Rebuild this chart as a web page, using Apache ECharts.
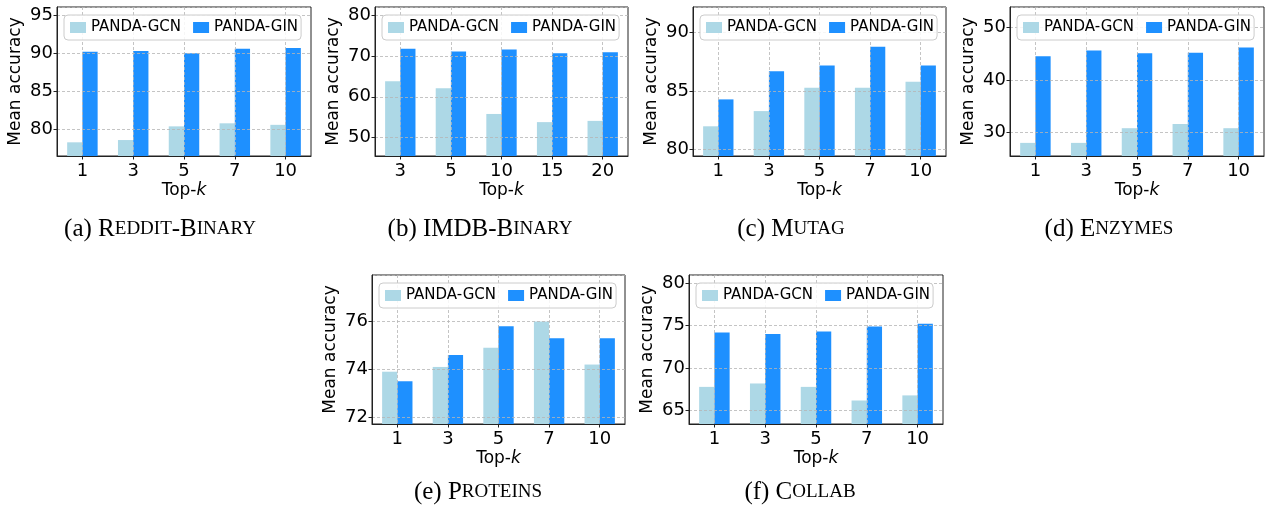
<!DOCTYPE html>
<html>
<head>
<meta charset="utf-8">
<script src="https://cdn.jsdelivr.net/npm/echarts@6/dist/echarts.min.js"></script>
<style>
    html, body { margin: 0; padding: 0; background: #fff; }
    #chart { width: 1270px; height: 514px; }
</style>
</head>
<body>
<div id="chart"></div>
<script>
// top-k values on the x axis
var topK = ['1', '3', '5', '7', '10'];
var topKImdb = ['3', '5', '10', '15', '20'];

// mean accuracy
var gcnReddit = [78.3, 78.6, 80.4, 80.8, 80.6];
var ginReddit = [90.2, 90.3, 90.0, 90.6, 90.7];
var gcnImdb = [63.8, 62.1, 55.8, 53.8, 54.1];
var ginImdb = [71.8, 71.1, 71.6, 70.7, 70.9];
var gcnMutag = [82.0, 83.3, 85.3, 85.3, 85.8];
var ginMutag = [84.3, 86.7, 87.2, 88.8, 87.2];
var gcnEnzymes = [28.0, 28.0, 30.8, 31.6, 30.8];
var ginEnzymes = [44.5, 45.6, 45.1, 45.2, 46.2];
var gcnProteins = [73.9, 74.1, 74.9, 76.0, 74.2];
var ginProteins = [73.5, 74.6, 75.8, 75.3, 75.3];
var gcnCollab = [67.8, 68.2, 67.8, 66.2, 66.8];
var ginCollab = [74.2, 74.0, 74.3, 74.9, 75.2];

var seriesNames = ['PANDA-GCN', 'PANDA-GIN'];
var colors = ['#add8e6', '#1e90ff'];

var sans = 'DejaVu Sans';
var serif = 'Liberation Serif';

// one entry per sub-figure (layout only, data comes from the arrays above)
var panels = [
    { cats: topK, gcn: gcnReddit, gin: ginReddit, min: 76.5, max: 96.1, step: 5,
      left: 57, top: 7, width: 254, cx: 160, cy: 229,
      caption: '{n|(a) R}{s|EDDIT}{n|-B}{s|INARY}' },
    { cats: topKImdb, gcn: gcnImdb, gin: ginImdb, min: 45.5, max: 82.0, step: 10,
      left: 375, top: 7, width: 253, cx: 480, cy: 229,
      caption: '{n|(b) IMDB-B}{s|INARY}' },
    { cats: topK, gcn: gcnMutag, gin: ginMutag, min: 79.46, max: 92.2, step: 5,
      left: 693, top: 7, width: 253, cx: 791, cy: 229,
      caption: '{n|(c) M}{s|UTAG}' },
    { cats: topK, gcn: gcnEnzymes, gin: ginEnzymes, min: 25.5, max: 53.9, step: 10,
      left: 1010, top: 7, width: 254, cx: 1109, cy: 229,
      caption: '{n|(d) E}{s|NZYMES}' },
    { cats: topK, gcn: gcnProteins, gin: ginProteins, min: 71.71, max: 77.95, step: 2,
      left: 372, top: 275, width: 253, cx: 478, cy: 492,
      caption: '{n|(e) P}{s|ROTEINS}' },
    { cats: topK, gcn: gcnCollab, gin: ginCollab, min: 63.44, max: 80.94, step: 5,
      left: 689, top: 275, width: 254, cx: 800, cy: 492,
      caption: '{n|(f) C}{s|OLLAB}' }
];

var gridLine = { color: '#b5b5b5', width: 0.8, type: [3, 2] };
var frameColor = '#222';

var grids = [], xAxes = [], yAxes = [], series = [], legends = [], graphics = [];

panels.forEach(function(p, i) {
    grids.push({
        left: p.left, top: p.top, width: p.width, height: 149,
        show: true, borderColor: frameColor, borderWidth: 1,
        backgroundColor: 'transparent'
    });

    xAxes.push({
        type: 'category', gridIndex: i, data: p.cats, z: 5,
        name: '{n|Top-}{i|k}', nameLocation: 'middle', nameGap: 26,
        nameTextStyle: {
            rich: {
                n: { fontFamily: sans, fontSize: 17, color: '#000' },
                i: { fontFamily: sans, fontSize: 17, fontStyle: 'italic', color: '#000' }
            }
        },
        axisLine: { show: true, lineStyle: { color: frameColor, width: 1 } },
        axisTick: { show: true, alignWithLabel: true, length: 3.5, lineStyle: { color: frameColor } },
        axisLabel: { fontFamily: sans, fontSize: 18, color: '#000', margin: 6 },
        splitLine: { show: true, alignWithLabel: true, lineStyle: gridLine }
    });

    yAxes.push({
        type: 'value', gridIndex: i, z: 5,
        min: p.min, max: p.max, minInterval: p.step, maxInterval: p.step,
        name: 'Mean accuracy', nameLocation: 'middle', nameGap: 33,
        nameTextStyle: { fontFamily: sans, fontSize: 17, color: '#000' },
        axisLine: { show: true, lineStyle: { color: frameColor, width: 1 } },
        axisTick: { show: true, length: 3.5, lineStyle: { color: frameColor } },
        axisLabel: { fontFamily: sans, fontSize: 18, color: '#000', margin: 4,
                     showMinLabel: false, showMaxLabel: false },
        splitLine: { show: true, lineStyle: gridLine }
    });

    [p.gcn, p.gin].forEach(function(vals, j) {
        series.push({
            name: seriesNames[j], type: 'bar',
            xAxisIndex: i, yAxisIndex: i,
            data: vals, barWidth: '30%', barGap: '0%',
            itemStyle: { color: colors[j] },
            silent: true
        });
    });

    legends.push({
        data: seriesNames, left: p.left + 7, top: p.top + 8, z: 10,
        orient: 'horizontal', icon: 'rect',
        itemWidth: 16, itemHeight: 11, itemGap: 12,
        padding: [5, 3, 5, 6],
        borderColor: '#cccccc', borderWidth: 1, borderRadius: 4,
        backgroundColor: 'rgba(255,255,255,0.85)',
        textStyle: { fontFamily: sans, fontSize: 15, color: '#000' },
        selectedMode: false
    });

    graphics.push({
        type: 'text', x: p.cx, y: p.cy,
        style: {
            text: p.caption,
            align: 'center', verticalAlign: 'middle',
            rich: {
                n: { fontFamily: serif, fontSize: 25, fill: '#000', color: '#000' },
                s: { fontFamily: serif, fontSize: 19, fill: '#000', color: '#000' }
            }
        }
    });
});

var myChart = echarts.init(document.getElementById('chart'), null, { renderer: 'canvas' });
myChart.setOption({
    animation: false,
    backgroundColor: '#fff',
    grid: grids,
    xAxis: xAxes,
    yAxis: yAxes,
    legend: legends,
    series: series,
    graphic: graphics
});

window.onresize = function() {
    myChart.resize();
};
</script>
</body>
</html>
